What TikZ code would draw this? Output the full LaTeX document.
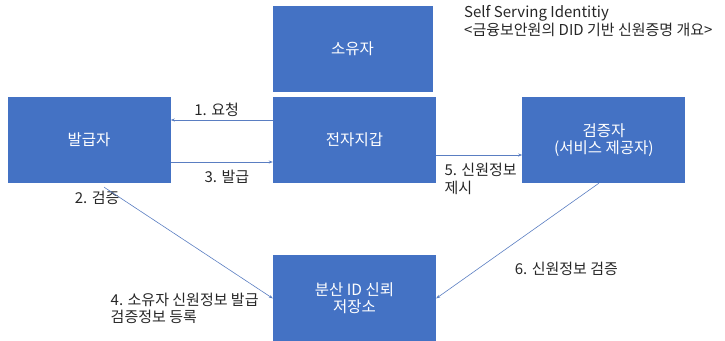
\documentclass[tikz,border=0pt]{standalone}
\usepackage{fontspec}
\setmainfont{Noto Sans CJK KR}
\usetikzlibrary{positioning,arrows.meta}

\begin{document}
\begin{tikzpicture}[x=1pt,y=1pt]
\definecolor{boxblue}{HTML}{4472C4}
\definecolor{lineblue}{HTML}{5A7EC2}
\definecolor{labelgray}{HTML}{262626}
\tikzset{
	box/.style={
		shape=rectangle,
		minimum width=163pt,
		minimum height=86pt,
		inner sep=0pt,
		align=center,
		font=\fontsize{15.5}{17}\selectfont,
		text=white,
		fill=boxblue,
	},
	lbl/.style={
		inner sep=0pt,
		align=left,
		font=\fontsize{15}{17}\selectfont,
		text=labelgray,
	},
}
\useasboundingbox (0,0) rectangle (725,-340);

\node[box] (wallet) at (354.5,-140) {전자지갑};
\node[box, minimum width=160pt, above=5pt of wallet, xshift=-2pt] (owner) {소유자};
\node[box, left=102pt of wallet] (issuer) {발급자};
\node[box, right=86pt of wallet] (verifier) {검증자\\(서비스 제공자)};
\node[box, below=72pt of wallet] (ledger) {분산 ID 신뢰\\저장소};

\node[lbl, anchor=north west, font=\fontsize{15}{18}\selectfont] (title) at (464,-5) {Self Serving Identitiy\\<금융보안원의 DID 기반 신원증명 개요>};
\node[lbl, below=8pt of issuer.south, xshift=8pt] (lverify) {2. 검증};
\node[lbl, anchor=north east, xshift=-14pt, yshift=6pt] (lregister) at (ledger.west) {4. 소유자 신원정보 발급\\검증정보 등록};

\begin{scope}[->, >={Stealth[length=4pt,width=3pt]}, lineblue, line width=0.6pt]
\draw ([yshift=20pt]wallet.west) -- node[lbl, above=3pt, pos=.55] (lrequest) {1. 요청} ([yshift=20pt]issuer.east);
\draw ([yshift=-22pt]issuer.east) -- node[lbl, below=8pt, pos=.55] (lissue) {3. 발급} ([yshift=-22pt]wallet.west);
\draw ([yshift=-15pt]wallet.east) -- node[lbl, pos=0, anchor=north west, xshift=8pt, yshift=-8pt, font=\fontsize{15}{18}\selectfont] (lpresent) {5. 신원정보\\제시} ([yshift=-15pt]verifier.west);
\draw ([xshift=15pt,yshift=-4pt]issuer.south) -- (ledger.west);
\draw ([xshift=-5pt]verifier.south) -- node[lbl, pos=.74, anchor=west, xshift=36pt] (lcheck) {6. 신원정보 검증} (ledger.east);
\end{scope}
\end{tikzpicture}
\end{document}
